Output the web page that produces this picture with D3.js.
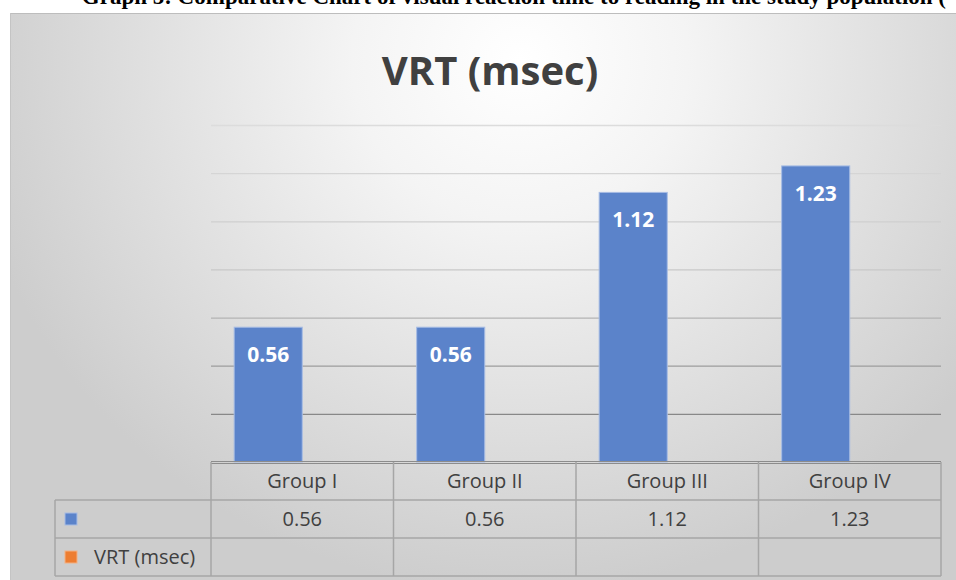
<!DOCTYPE html>
<html><head><meta charset="utf-8">
<script src="https://cdn.jsdelivr.net/npm/d3@7/dist/d3.min.js"></script>
<style>html,body{margin:0;padding:0;background:#fff;overflow:hidden}</style>
</head><body>
<script>
const caption = "Graph 5: Comparative Chart of visual reaction time to reading in the study population (";
const chartTitle = "VRT (msec)";
const categories = ["Group I", "Group II", "Group III", "Group IV"];
const seriesNames = ["", "VRT (msec)"];
const series1 = [0.56, 0.56, 1.12, 1.23];
const series2 = [null, null, null, null];
const yTicks = [0, 0.2, 0.4, 0.6, 0.8, 1.0, 1.2, 1.4];

const W = 956, H = 580;
const seriesColors = ["#5b83ca", "#ed7d31"];
const textColor = "#404040";
const font = "'Open Sans', 'Noto Sans', sans-serif";

const svg = d3.select("body").append("svg").attr("width", W).attr("height", H);
const defs = svg.append("defs");
const rg = defs.append("radialGradient").attr("id", "bg")
  .attr("gradientUnits", "userSpaceOnUse")
  .attr("cx", 520).attr("cy", 60).attr("r", 560)
  .attr("gradientTransform", "translate(520,60) scale(1,0.95) translate(-520,-60)");
rg.append("stop").attr("offset", 0).attr("stop-color", "#ffffff");
rg.append("stop").attr("offset", 0.3).attr("stop-color", "#f4f4f4");
rg.append("stop").attr("offset", 0.75).attr("stop-color", "#dbdbdb");
rg.append("stop").attr("offset", 1).attr("stop-color", "#cdcdcd");

// clipped caption line above the chart
svg.append("text").attr("x", 946).attr("y", 4).attr("text-anchor", "end")
  .attr("font-family", "'Liberation Serif', 'Times New Roman', serif")
  .attr("font-weight", "bold").attr("font-size", 23).attr("fill", "#000")
  .text(caption);

// chart area
svg.append("rect").attr("x", 10).attr("y", 13).attr("width", W - 10).attr("height", H - 13)
  .attr("fill", "url(#bg)");
svg.append("line").attr("x1", 10).attr("x2", W).attr("y1", 13.5).attr("y2", 13.5).attr("stroke", "#bdbdbd");
svg.append("line").attr("x1", 10.5).attr("x2", 10.5).attr("y1", 13).attr("y2", H).attr("stroke", "#c4c4c4");

// title
svg.append("text").attr("x", 490).attr("y", 85).attr("text-anchor", "middle")
  .attr("font-family", font).attr("font-weight", "bold").attr("font-size", 40)
  .attr("fill", textColor).text(chartTitle);

const plotL = 211, plotR = 941, plotT = 125, plotB = 462;
const y = d3.scaleLinear().domain([0, 1.4]).range([plotB, plotT]);
const x0 = d3.scaleBand().domain(categories).range([plotL, plotR]).padding(0);
const x1 = d3.scaleBand().domain(seriesNames).range([0, x0.bandwidth()]).paddingInner(0).paddingOuter(0.34);

const gridColor = d3.scaleLinear().domain([1.4, 0.8, 0.2]).range(["#dcdcdc", "#c8c8c8", "#888888"]);
const grid = svg.append("g")
  .call(d3.axisLeft(y).tickValues(yTicks.filter(t => t > 0)).tickSize(-(plotR - plotL)).tickFormat(""));
grid.attr("transform", `translate(${plotL},0)`);
grid.select(".domain").remove();
grid.selectAll(".tick line").attr("stroke", d => gridColor(d)).attr("stroke-width", 1.3);

const seriesData = [series1, series2];
const barsG = svg.append("g");
seriesData.forEach((vals, si) => {
  const data = categories.map((c, i) => ({ c, v: vals[i] })).filter(d => d.v != null);
  barsG.selectAll(null).data(data).enter().append("rect")
    .attr("x", d => x0(d.c) + x1(seriesNames[si]))
    .attr("y", d => y(d.v))
    .attr("width", x1.bandwidth())
    .attr("height", d => y(0) - y(d.v))
    .attr("fill", seriesColors[si])
    .attr("stroke", "#a7bce4").attr("stroke-width", 1);
  barsG.selectAll(null).data(data).enter().append("text")
    .attr("x", d => x0(d.c) + x1(seriesNames[si]) + x1.bandwidth() / 2)
    .attr("y", d => y(d.v) + 35)
    .attr("text-anchor", "middle")
    .attr("font-family", font).attr("font-weight", "bold").attr("font-size", 21)
    .attr("fill", "#ffffff").text(d => d.v.toFixed(2));
});

// data table
const rowH = 38;
const tableL = 55;
const tg = svg.append("g");
const lineC = "#a6a6a6";
tg.append("line").attr("x1", plotL).attr("x2", plotR).attr("y1", plotB - 0.5).attr("y2", plotB - 0.5).attr("stroke", "#8c8c8c").attr("stroke-width", 1);
tg.append("line").attr("x1", plotL).attr("x2", plotR).attr("y1", plotB + 1.5).attr("y2", plotB + 1.5).attr("stroke", "#8c8c8c").attr("stroke-width", 1);
[1, 2, 3].forEach(r => {
  tg.append("line").attr("x1", tableL).attr("x2", plotR)
    .attr("y1", plotB + r * rowH).attr("y2", plotB + r * rowH)
    .attr("stroke", lineC).attr("stroke-width", 1.5);
});
const colEdges = categories.map(c => x0(c)).concat([plotR]);
colEdges.forEach(xv => {
  tg.append("line").attr("x1", xv).attr("x2", xv).attr("y1", plotB).attr("y2", plotB + 3 * rowH)
    .attr("stroke", lineC).attr("stroke-width", 1.5);
});
tg.append("line").attr("x1", tableL).attr("x2", tableL).attr("y1", plotB + rowH).attr("y2", plotB + 3 * rowH)
  .attr("stroke", lineC).attr("stroke-width", 1.5);

tg.selectAll(null).data(categories).enter().append("text")
  .attr("x", d => x0(d) + x0.bandwidth() / 2).attr("y", plotB + rowH / 2 + 7)
  .attr("text-anchor", "middle").attr("font-family", font).attr("font-size", 20)
  .attr("fill", textColor).text(d => d);
seriesData.forEach((vals, si) => {
  const ry = plotB + (si + 1) * rowH;
  tg.append("rect").attr("x", 65).attr("y", ry + rowH / 2 - 6).attr("width", 12).attr("height", 12)
    .attr("fill", seriesColors[si]).attr("stroke", si === 0 ? "#a7bce4" : "#f4b183").attr("stroke-width", 1);
  tg.append("text").attr("x", 94).attr("y", ry + rowH / 2 + 7)
    .attr("font-family", font).attr("font-size", 20).attr("fill", textColor).text(seriesNames[si]);
  tg.selectAll(null).data(categories.map((c, i) => ({ c, v: vals[i] })).filter(d => d.v != null))
    .enter().append("text")
    .attr("x", d => x0(d.c) + x0.bandwidth() / 2).attr("y", ry + rowH / 2 + 7)
    .attr("text-anchor", "middle").attr("font-family", font).attr("font-size", 20)
    .attr("fill", textColor).text(d => d.v.toFixed(2));
});
</script>
</body></html>
